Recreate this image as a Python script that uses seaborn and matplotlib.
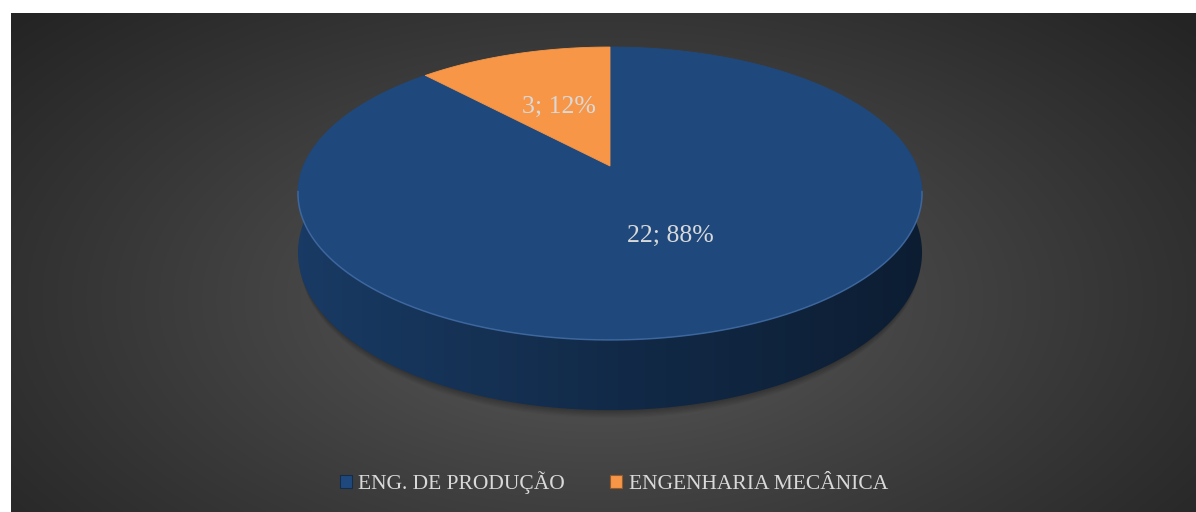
import numpy as np
import matplotlib
matplotlib.use("Agg")
import matplotlib.pyplot as plt
import seaborn as sns
from matplotlib.patches import Polygon, Patch
from matplotlib.colors import to_rgb, LinearSegmentedColormap

# ---- data ----
categories = ["ENG. DE PRODUÇÃO", "ENGENHARIA MECÂNICA"]
counts = [22, 3]
colors = ["#1F497D", "#F79646"]

sns.set_theme(style="white")
plt.rcParams["font.family"] = ["Liberation Serif", "DejaVu Serif"]

W, H = 1196, 512
fig = plt.figure(figsize=(W / 100, H / 100), dpi=100)
fig.patch.set_facecolor("white")
ax = fig.add_axes([0, 0, 1, 1])

# ---- background radial gradient ----
x0, x1, y0, y1 = 11, W, 13, H
xs = np.linspace(x0, x1, 600)
ys = np.linspace(y0, y1, 260)
X, Y = np.meshgrid(xs, ys)
r = np.sqrt(((X - 600) / 700) ** 2 + ((Y - 300) / 380) ** 2)
r = np.clip(r / 1.12, 0, 1) ** 0.9
c_in = np.array(to_rgb("#5d5d5d"))
c_out = np.array(to_rgb("#242424"))
img = c_in[None, None, :] * (1 - r[..., None]) + c_out[None, None, :] * r[..., None]
ax.imshow(img, extent=[x0, x1, y1, y0], origin="upper", aspect="auto", zorder=0)

# ---- projection of a 3D disk ----
CX, CY = 610, 166
A, B, K, D = 141.3, 306.5, 0.1877, 57


def proj(u, v, depth=0.0):
    s = 1.0 / (1.0 - K * v)
    return CX + B * u * s, CY + A * v * s + depth * s


def rim(t, depth=0.0, scale=1.0):
    return proj(scale * np.sin(t), -scale * np.cos(t), depth)


vals = np.array(counts, dtype=float)
frac = vals / vals.sum()
edges = np.concatenate([[0.0], np.cumsum(frac)]) * 2 * np.pi

# soft shadow below the pie
for i in range(8):
    t = np.linspace(0, 2 * np.pi, 300)
    sx, sy = rim(t, D + 1 + i * 0.9, 0.995)
    ax.fill(sx, sy, color="black", alpha=0.04, lw=0, zorder=1)

# sides (front part only)
front0, front1 = np.deg2rad(80), np.deg2rad(280)
for i in range(len(vals)):
    a0, a1 = max(edges[i], front0), min(edges[i + 1], front1)
    if a1 <= a0:
        continue
    t = np.linspace(a0, a1, 300)
    tx, ty = rim(t)
    bx, by = rim(t[::-1], D)
    poly = Polygon(np.column_stack([np.r_[tx, bx], np.r_[ty, by]]),
                   closed=True, facecolor="none", edgecolor="none")
    ax.add_patch(poly)
    base = np.array(to_rgb(colors[i]))
    cmap = LinearSegmentedColormap.from_list(
        "side", [base * 0.80, base * 0.58, base * 0.40])
    grad = np.linspace(0, 1, 256)[None, :]
    im = ax.imshow(grad, cmap=cmap, extent=[CX - B * 1.03, CX + B * 1.03, 420, 120],
                   origin="upper", aspect="auto", zorder=2)
    im.set_clip_path(poly)

# top faces
for i in range(len(vals)):
    t = np.linspace(edges[i], edges[i + 1], 300)
    tx, ty = rim(t)
    cx, cy = proj(0, 0)
    pts = np.column_stack([np.r_[cx, tx], np.r_[cy, ty]])
    ax.add_patch(Polygon(pts, closed=True, facecolor=colors[i],
                         edgecolor=colors[i], lw=0.6, zorder=3))

# rim highlight on the front edge
t = np.linspace(np.deg2rad(100), np.deg2rad(260), 300)
hx, hy = rim(t)
ax.plot(hx, hy, color="#5b87c4", lw=1.1, alpha=0.5, zorder=4,
        solid_capstyle="round")

# data labels
for i in range(len(vals)):
    mid = 0.5 * (edges[i] + edges[i + 1])
    lx, ly = proj(0.49 * np.sin(mid), -0.49 * np.cos(mid))
    ax.text(lx, ly, f"{counts[i]}; {frac[i] * 100:.0f}%", ha="center", va="center",
            fontsize=18.5, color="#d9d9d9", zorder=5)

ax.set_xlim(0, W)
ax.set_ylim(H, 0)
ax.axis("off")

# legend
handles = [Patch(facecolor=c, edgecolor=tuple(np.array(to_rgb(c)) * 0.6), lw=0.8)
           for c in colors]
fig.legend(handles, categories, loc="center", bbox_to_anchor=(614 / W, 1 - 483 / H),
           ncol=2, frameon=False, fontsize=15.5, labelcolor="#d9d9d9",
           handlelength=0.55, handleheight=0.55, handletextpad=0.3,
           columnspacing=2.1)

fig.savefig("out.png", dpi=100, facecolor="white")
